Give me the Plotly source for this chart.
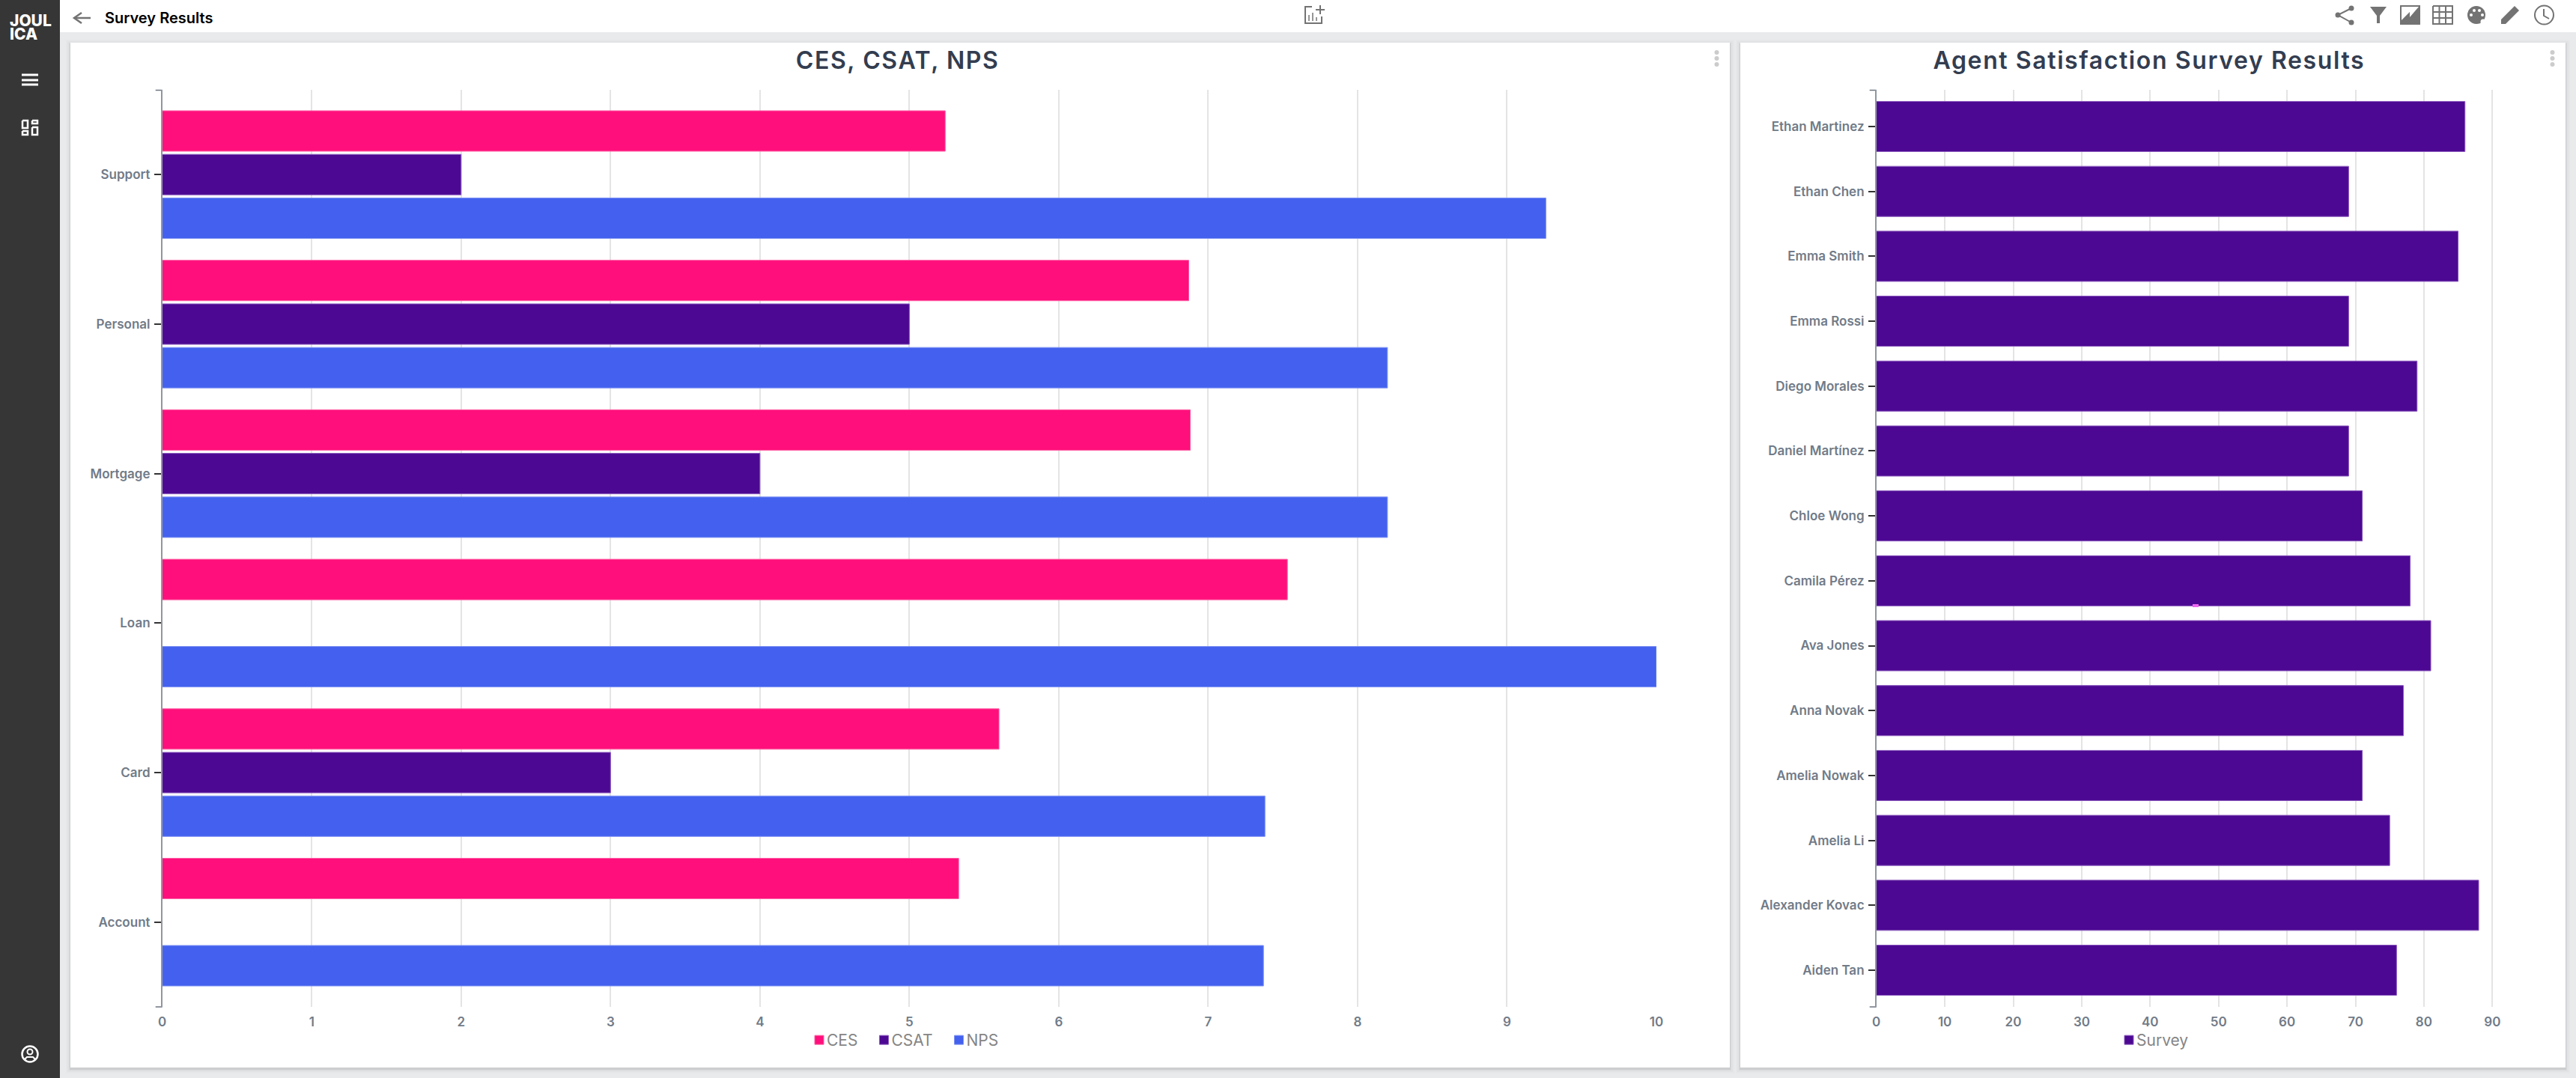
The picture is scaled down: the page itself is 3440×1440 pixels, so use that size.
import pandas as pd
import plotly.express as px
import plotly.graph_objects as go

WIDTH = 3440
HEIGHT = 1440
FONT = "Inter"
GREY_ICON = "#737373"
CARD_LEFT = (94, 57, 2310, 1426)
CARD_RIGHT = (2324, 57, 3426, 1426)


def px_x(v):
    return v / WIDTH


def px_y(v):
    return 1 - v / HEIGHT


def add_box(fig, x0, y0, x1, y1, color, layer="below"):
    fig.add_shape(type="rect", xref="paper", yref="paper", layer=layer,
                  x0=px_x(x0), y0=px_y(y0), x1=px_x(x1), y1=px_y(y1),
                  fillcolor=color, line_width=0)


def add_dot(fig, cx, cy, r, color, line_color=None, width=0):
    fig.add_shape(type="circle", xref="paper", yref="paper", layer="below",
                  x0=px_x(cx - r), y0=px_y(cy - r), x1=px_x(cx + r), y1=px_y(cy + r),
                  fillcolor=color, line=dict(color=line_color, width=width))


def add_path(fig, points, fill=None, line_color=None, width=0):
    path = "M " + " L ".join(f"{px_x(x):.6f},{px_y(y):.6f}" for x, y in points)
    if fill:
        path += " Z"
    fig.add_shape(type="path", xref="paper", yref="paper", layer="below", path=path,
                  fillcolor=fill, line=dict(color=line_color, width=width))


def add_label(fig, text, x, y, size, color, weight=400, xanchor="left"):
    fig.add_annotation(text=text, xref="paper", yref="paper", x=px_x(x), y=px_y(y),
                       xanchor=xanchor, yanchor="middle", showarrow=False, align=xanchor,
                       font=dict(family=FONT, size=size, color=color, weight=weight))


def add_card(fig, box):
    x0, y0, x1, y1 = box
    for grow, alpha in [(6, 0.012), (4, 0.02), (2, 0.03), (1, 0.05)]:
        add_box(fig, x0 - grow, y0 - grow + 2, x1 + grow, y1 + grow + 2, f"rgba(0,0,0,{alpha})")
    add_box(fig, x0, y0, x1, y1, "white")
    for cy in [70, 78, 86]:  # kebab menu
        add_dot(fig, x1 - 17.5, cy, 3, "#cccccc")


def add_page_chrome(fig):
    add_box(fig, 0, 0, WIDTH, HEIGHT, "#e9eaec")
    add_box(fig, 80, 0, WIDTH, 43, "white")
    add_box(fig, 0, 0, 80, HEIGHT, "#363636")
    add_card(fig, CARD_LEFT)
    add_card(fig, CARD_RIGHT)

    # sidebar
    for y in [100, 107, 113]:
        add_box(fig, 29, y - 1.5, 51, y + 1.5, "white")
    for x0, y0, x1, y1 in [(30, 161, 37, 171), (43, 161, 50, 165), (30, 175, 37, 180), (43, 170, 50, 180)]:
        add_path(fig, [(x0, y0), (x1, y0), (x1, y1), (x0, y1), (x0, y0)], line_color="white", width=2.5)
    add_dot(fig, 40, 1408, 10.5, "rgba(0,0,0,0)", "white", 2.5)
    add_dot(fig, 40, 1405, 3.5, "rgba(0,0,0,0)", "white", 2)
    add_path(fig, [(33, 1415), (36, 1412), (44, 1412), (47, 1415)], line_color="white", width=2)

    # header
    add_path(fig, [(121, 24), (99, 24)], line_color=GREY_ICON, width=2.5)
    add_path(fig, [(109, 17), (99, 24), (109, 31)], line_color=GREY_ICON, width=2.5)
    add_path(fig, [(1752, 9), (1743, 9), (1743, 31), (1765, 31), (1765, 22)], line_color=GREY_ICON, width=2)
    add_path(fig, [(1763, 7), (1763, 19)], line_color=GREY_ICON, width=2)
    add_path(fig, [(1757, 13), (1769, 13)], line_color=GREY_ICON, width=2)
    for x, top in [(1748, 20), (1753, 17), (1758, 23)]:
        add_path(fig, [(x, top), (x, 28)], line_color=GREY_ICON, width=1.5)

    # share
    add_path(fig, [(3140, 11), (3122, 20), (3140, 30)], line_color=GREY_ICON, width=2)
    for cx, cy in [(3140, 11), (3122, 20), (3140, 30)]:
        add_dot(fig, cx, cy, 3.5, GREY_ICON)
    # filter
    add_path(fig, [(3165, 9), (3187, 9), (3178, 21), (3178, 31), (3174, 31), (3174, 21)], fill=GREY_ICON)
    # area chart
    add_path(fig, [(3205, 7), (3232, 7), (3232, 33), (3205, 33)], fill=GREY_ICON)
    add_path(fig, [(3207, 9), (3230, 9), (3218, 23), (3218, 16), (3207, 27)], fill="white")
    # table
    add_path(fig, [(3249, 8), (3275, 8), (3275, 32), (3249, 32), (3249, 8)], line_color=GREY_ICON, width=2)
    for x in [3257.5, 3266]:
        add_path(fig, [(x, 8), (x, 32)], line_color=GREY_ICON, width=2)
    for y in [16, 24]:
        add_path(fig, [(3249, y), (3275, y)], line_color=GREY_ICON, width=2)
    # palette
    add_dot(fig, 3307, 20, 12, GREY_ICON)
    for cx, cy in [(3300, 20), (3304, 14), (3311, 14), (3315, 20)]:
        add_dot(fig, cx, cy, 2, "white")
    add_dot(fig, 3316, 29, 3.5, "white")
    # pencil
    add_path(fig, [(3340, 32), (3340, 26), (3358, 8), (3364, 14), (3346, 32)], fill=GREY_ICON)
    # clock
    add_dot(fig, 3397.5, 20, 12.5, "rgba(0,0,0,0)", GREY_ICON, 2)
    add_path(fig, [(3397, 12), (3397, 21), (3404, 25)], line_color=GREY_ICON, width=2)

    add_label(fig, "JOUL<br>ICA", 11, 41, 21, "white", 800)
    add_label(fig, "Survey Results", 137.5, 24, 20, "#000000", 600)


def plot_survey_results():
    scores = pd.DataFrame({
        "channel": ["Support", "Personal", "Mortgage", "Loan", "Card", "Account"],
        "CES": [5.24, 6.87, 6.88, 7.53, 5.60, 5.33],
        "CSAT": [2, 5, 4, None, 3, None],
        "NPS": [9.26, 8.20, 8.20, 10, 7.38, 7.37],
    })
    agents = pd.DataFrame({
        "agent": ["Ethan Martinez", "Ethan Chen", "Emma Smith", "Emma Rossi", "Diego Morales",
                  "Daniel Martínez", "Chloe Wong", "Camila Pérez", "Ava Jones", "Anna Novak",
                  "Amelia Nowak", "Amelia Li", "Alexander Kovac", "Aiden Tan"],
        "Survey": [86, 69, 85, 69, 79, 69, 71, 78, 81, 77, 71, 75, 88, 76],
    })

    fig = px.bar(scores, y="channel", x=["CES", "CSAT", "NPS"], orientation="h", barmode="group",
                 color_discrete_map={"CES": "#ff0f7b", "CSAT": "#4c0892", "NPS": "#4361ee"})
    fig.data[0].marker.line = dict(color="#ff5fa5", width=1)
    fig.data[1].marker.line = dict(color="#8a58bd", width=1)
    fig.data[2].marker.line = dict(color="#7d91f3", width=1)

    right = px.bar(agents, y="agent", x="Survey", orientation="h", color_discrete_sequence=["#4c0892"])
    right.update_traces(name="Survey", showlegend=True, xaxis="x2", yaxis="y2", legend="legend2",
                        width=0.773, marker_line=dict(color="#8a58bd", width=1))
    fig.add_traces(right.data)

    add_page_chrome(fig)

    # end caps of the category axes
    for axis_x in [216.7, 2505.7]:
        for y in [120.5, 1345]:
            add_path(fig, [(axis_x - 9, y), (axis_x, y)], line_color="#6c7480", width=1.5)

    add_box(fig, 2928, 807, 2936, 811, "#ee66ee", layer="above")

    tick_font = dict(family=FONT, size=17, color="#717b88", weight=600)
    legend_font = dict(family=FONT, size=21, color="#858585")
    fig.update_layout(
        width=WIDTH,
        height=HEIGHT,
        margin=dict(l=0, r=0, t=0, b=0, autoexpand=False),
        paper_bgcolor="#e9eaec",
        plot_bgcolor="rgba(0,0,0,0)",
        font=dict(family=FONT),
        bargap=0.125,
        bargroupgap=0.072,
        legend=dict(title_text="", orientation="h", x=px_x(1064), y=px_y(1389.5), xanchor="left", yanchor="middle",
                    font=legend_font, bgcolor="rgba(0,0,0,0)", itemclick=False),
        legend2=dict(orientation="h", x=px_x(2813), y=px_y(1389.5), xanchor="left", yanchor="middle",
                     font=legend_font, bgcolor="rgba(0,0,0,0)", itemclick=False),
        xaxis=dict(domain=[px_x(216.7), px_x(2212)], range=[0, 10], dtick=1, title_text="", automargin=False,
                   showgrid=True, gridcolor="#e4e4e4", gridwidth=1.5, zeroline=False, showline=False,
                   ticks="", tickfont=tick_font, ticklabelstandoff=8, anchor="y"),
        yaxis=dict(domain=[px_y(1345), px_y(120)], title_text="", type="category", automargin=False,
                   categoryorder="array", categoryarray=list(scores["channel"]),
                   range=[5.567, -0.567], showgrid=False, zeroline=False, showline=True,
                   linecolor="#8f96a0", linewidth=1.5, ticks="outside", ticklen=9, tickwidth=1.5,
                   tickcolor="#333333", tickfont=tick_font, ticklabelstandoff=2, anchor="x"),
        xaxis2=dict(domain=[px_x(2505.7), px_x(3374)], range=[0, 95], tick0=0, dtick=10, automargin=False,
                    showgrid=True, gridcolor="#e4e4e4", gridwidth=1.5, zeroline=False, showline=False,
                    ticks="", tickfont=tick_font, ticklabelstandoff=8, anchor="y2"),
        yaxis2=dict(domain=[px_y(1345), px_y(120)], type="category", automargin=False,
                    categoryorder="array", categoryarray=list(agents["agent"]),
                    range=[13.565, -0.565], showgrid=False, zeroline=False, showline=True,
                    linecolor="#8f96a0", linewidth=1.5, ticks="outside", ticklen=9, tickwidth=1.5,
                    tickcolor="#333333", tickfont=tick_font, ticklabelstandoff=2, anchor="x2"),
    )
    add_label(fig, "CES, CSAT, NPS", 1198, 80, 32, "#333d50", 600, xanchor="center")
    add_label(fig, "Agent Satisfaction Survey Results", 2870, 80, 32, "#333d50", 600, xanchor="center")
    return fig


fig = plot_survey_results()
# letter spacing of the titles, tight logo lines and tight legend keys are not layout options
js = """
document.body.style.margin = '0';
document.querySelectorAll('.annotation-text').forEach(function (t) {
    if (t.style.fontSize === '32px') { t.style.letterSpacing = '1.6px'; }
    var lines = t.querySelectorAll('tspan.line');
    if (lines.length === 2) { lines[1].setAttribute('dy', '0.87em'); }
});
document.querySelectorAll('.legendpoints').forEach(function (g) {
    g.setAttribute('transform', 'translate(10,0)');
});
"""
fig.write_html("out.html", config=dict(displayModeBar=False), post_script=js)
